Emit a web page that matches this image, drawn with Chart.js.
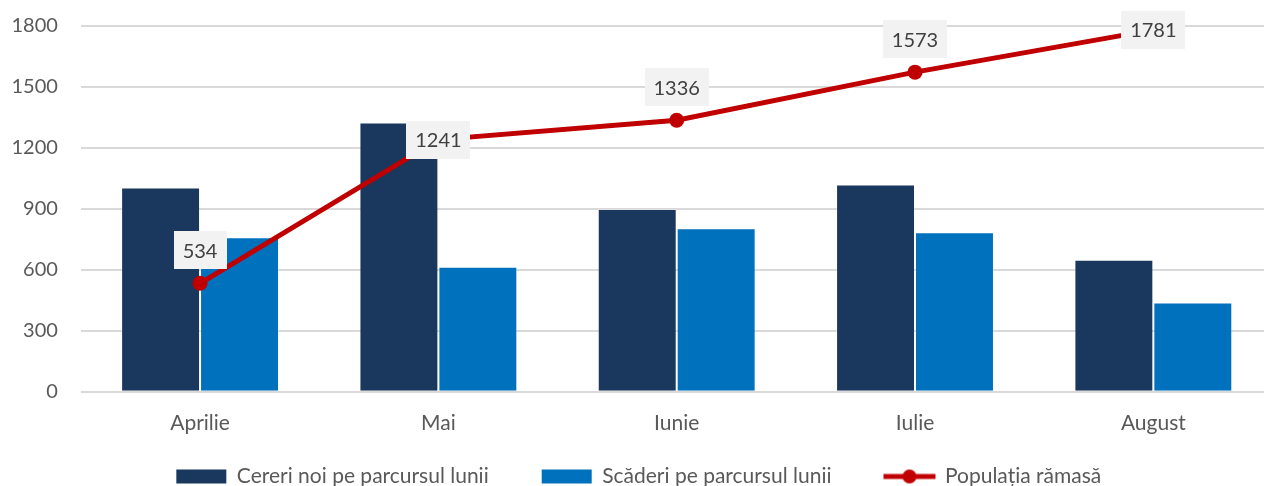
<!DOCTYPE html>
<html>
<head>
<meta charset="utf-8">
<script src="https://cdn.jsdelivr.net/npm/chart.js@4"></script>
<style>
html, body { margin: 0; padding: 0; overflow: hidden; background: #fff; }
#wrap { width: 1280px; height: 539px; position: relative; }
</style>
</head>
<body>
<div id="wrap"><canvas id="Grafica"></canvas></div>
<script>
const luni = ['Aprilie', 'Mai', 'Iunie', 'Iulie', 'August'];
const cereriNoi = [1005, 1325, 900, 1020, 650];
const scaderi = [760, 615, 805, 785, 440];
const populatie = [534, 1241, 1336, 1573, 1781];
const numeSerii = ['Cereri noi pe parcursul lunii', 'Scăderi pe parcursul lunii', 'Populația rămasă'];

const ROSU = '#C00000';

// icon for the line series in the legend: line with a dot in the middle
const iconLinie = document.createElement('canvas');
iconLinie.width = 54; iconLinie.height = 16;
(function() {
	const c = iconLinie.getContext('2d');
	c.strokeStyle = ROSU; c.lineWidth = 5;
	c.beginPath(); c.moveTo(1, 8); c.lineTo(53, 8); c.stroke();
	c.fillStyle = ROSU;
	c.beginPath(); c.arc(27, 8, 7, 0, Math.PI * 2); c.fill();
})();

// labels with grey box over the points of the line
const etichete = {
	id: 'etichete',
	afterLayout(chart) {
		// legend padding is large for the gap between items, pull it up
		const lg = chart.legend;
		lg.top -= 42; lg.bottom -= 42;
	},
	afterDraw(chart, args, opts) {
		const meta = chart.getDatasetMeta(2);
		const ctx = chart.ctx;
		ctx.save();
		ctx.font = '20px Lato';
		ctx.textAlign = 'center';
		ctx.textBaseline = 'middle';
		meta.data.forEach((pt, i) => {
			const txt = String(populatie[i]);
			const w = ctx.measureText(txt).width + 18;
			const h = 38;
			const cy = opts.pozitii[i] === 'sus' ? pt.y - 33 : pt.y;
			ctx.fillStyle = '#F2F2F2';
			ctx.fillRect(Math.round(pt.x - w / 2), Math.round(cy - h / 2), Math.round(w), h);
			ctx.fillStyle = '#404040';
			ctx.fillText(txt, pt.x, cy + 1);
		});
		ctx.restore();
	}
};

Chart.defaults.font.family = 'Lato';
Chart.defaults.font.size = 20;
Chart.defaults.color = '#595959';

var ctx = document.querySelector('#Grafica').getContext('2d');
var myChart = new Chart(ctx, {
	type: 'bar',
	data: {
		labels: luni,
		datasets: [{
			label: numeSerii[0],
			data: cereriNoi,
			backgroundColor: '#1A375E',
			borderColor: 'rgba(255,255,255,0.22)',
			borderWidth: 1,
			order: 2
		}, {
			label: numeSerii[1],
			data: scaderi,
			backgroundColor: '#0071BC',
			borderColor: 'rgba(255,255,255,0.22)',
			borderWidth: 1,
			order: 2
		}, {
			type: 'line',
			label: numeSerii[2],
			data: populatie,
			borderColor: ROSU,
			backgroundColor: ROSU,
			borderWidth: 5,
			pointRadius: 7.5,
			pointBackgroundColor: ROSU,
			pointBorderWidth: 0,
			tension: 0,
			order: 1
		}]
	},
	options: {
		responsive: true,
		maintainAspectRatio: false,
		animation: false,
		devicePixelRatio: 1,
		categoryPercentage: 0.6625,
		barPercentage: 1,
		layout: { padding: { left: -2.5, right: 0, top: 0, bottom: 0 } },
		scales: {
			x: {
				grid: { display: false, drawTicks: false },
				border: { display: false },
				ticks: { padding: 19, color: '#595959', font: { size: 21 } }
			},
			y: {
				min: 0,
				max: 1800,
				ticks: {
					stepSize: 300,
					padding: 14,
					color: '#595959',
					callback: v => String(v)
				},
				grid: { color: '#D9D9D9', lineWidth: 2, drawTicks: true, tickLength: 9, tickColor: 'rgba(0,0,0,0)' },
				border: { display: false }
			}
		},
		plugins: {
			legend: {
				position: 'bottom',
				labels: {
					usePointStyle: true,
					pointStyleWidth: 50,
					boxHeight: 14,
					padding: 53,
					color: '#595959',
					font: { size: 21 },
					sort: (a, b) => a.datasetIndex - b.datasetIndex,
					generateLabels(chart) {
						const items = Chart.defaults.plugins.legend.labels.generateLabels(chart);
						items.forEach(it => {
							if (it.datasetIndex === 2) {
								it.pointStyle = iconLinie;
							} else {
								it.pointStyle = 'rect';
								it.lineWidth = 0;
								it.strokeStyle = it.fillStyle;
							}
						});
						return items;
					}
				}
			},
			tooltip: { enabled: false },
			etichete: { pozitii: ['sus', 'centru', 'sus', 'sus', 'centru'] }
		}
	},
	plugins: [etichete]
});
</script>
</body>
</html>
